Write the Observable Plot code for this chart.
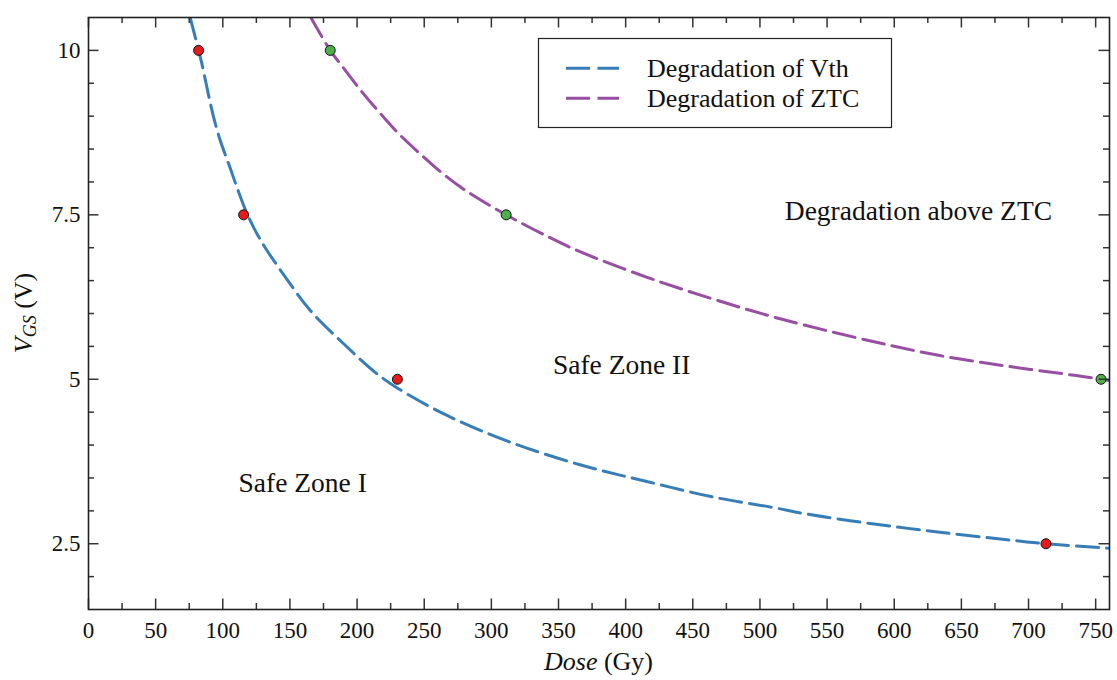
<!DOCTYPE html>
<html>
<head>
<meta charset="utf-8">
<script src="https://cdn.jsdelivr.net/npm/d3@7"></script>
<script src="https://cdn.jsdelivr.net/npm/@observablehq/plot@0.6"></script>
<style>
  body { margin: 0; background: #fff; }
  #chart svg { display: block; }
</style>
</head>
<body>
<div id="chart"></div>
<script>
// Fitted boundary: degradation of the threshold voltage (Vth)
const vthDose = [75.7, 82, 84.4, 89.4, 93.1, 98.1, 104.3, 110.5, 118, 124.2, 131.6, 145, 165, 190, 212, 229, 267, 312, 366, 415, 465, 510, 535, 585, 634, 684, 713, 760.3];
const vthVgs  = [10.5, 10, 9.8, 9.32, 8.99, 8.63, 8.28, 7.92, 7.52, 7.26, 7.0, 6.6, 6.05, 5.54, 5.13, 4.88, 4.45, 4.06, 3.7, 3.45, 3.21, 3.05, 2.95, 2.8, 2.675, 2.56, 2.5, 2.43];
// Measured Vth degradation points
const vthPtDose = [82, 115.5, 230, 713];
const vthPtVgs  = [10, 7.5, 5, 2.5];

// Fitted boundary: degradation of the zero-temperature-coefficient point (ZTC)
const ztcDose = [165.6, 180, 190, 202.4, 214.8, 229.7, 244.6, 259.5, 274.4, 289.3, 311, 341, 366, 416, 465, 515, 585, 634, 684, 734, 754, 760.3];
const ztcVgs  = [10.5, 10, 9.73, 9.4, 9.1, 8.76, 8.47, 8.2, 7.96, 7.76, 7.5, 7.18, 6.94, 6.55, 6.22, 5.92, 5.57, 5.36, 5.2, 5.06, 5.0, 4.98];
// Measured ZTC degradation points
const ztcPtDose = [180, 311, 754];
const ztcPtVgs  = [10, 7.5, 5];

// Region labels
const zoneNames = ["Safe Zone I", "Safe Zone II", "Degradation above ZTC"];
const zoneDose  = [159.5, 397, 618];
const zoneVgs   = [3.42, 5.22, 7.55];

// Series names and colours
const seriesNames  = ["Degradation of Vth", "Degradation of ZTC"];
const seriesColors = ["#377eb8", "#984ea3"];
const pointColors  = ["#e41a1c", "#4daf4a"];

// Tick values
const doseMajor = [0, 50, 100, 150, 200, 250, 300, 350, 400, 450, 500, 550, 600, 650, 700, 750];
const doseMinor = [25, 75, 125, 175, 225, 275, 325, 375, 425, 475, 525, 575, 625, 675, 725];
const vgsMajor  = [2.5, 5, 7.5, 10];
const vgsMinor  = [2, 3, 3.5, 4, 4.5, 5.5, 6, 6.5, 7, 8, 8.5, 9, 9.5];

const zip = (xs, ys) => xs.map((x, i) => ({dose: x, vgs: ys[i]}));
const vthCurve = zip(vthDose, vthVgs);
const ztcCurve = zip(ztcDose, ztcVgs);
const vthPts = zip(vthPtDose, vthPtVgs);
const ztcPts = zip(ztcPtDose, ztcPtVgs);
const zones = zoneNames.map((t, i) => ({text: t, dose: zoneDose[i], vgs: zoneVgs[i]}));

const W = 1117, H = 680;
const mL = 88, mR = 8, mT = 17, mB = 71;
const innerW = W - mL - mR, innerH = H - mT - mB;
const FONT = "'Liberation Serif', 'Times New Roman', serif";
const majorLen = 10.5, minorLen = 6;
const tickStroke = "#333";

const dash = "22,8";

const chart = Plot.plot({
  width: W,
  height: H,
  marginLeft: mL, marginRight: mR, marginTop: mT, marginBottom: mB,
  style: {fontFamily: FONT, fontSize: "23px", color: "#111", background: "#fff"},
  x: {domain: [0, 760.3]},
  y: {domain: [1.5, 10.5]},
  marks: [
    Plot.line(vthCurve, {x: "dose", y: "vgs", stroke: seriesColors[0], strokeWidth: 3, strokeDasharray: dash, curve: "catmull-rom", clip: true}),
    Plot.line(ztcCurve, {x: "dose", y: "vgs", stroke: seriesColors[1], strokeWidth: 3, strokeDasharray: dash, curve: "catmull-rom", clip: true}),
    Plot.dot(vthPts, {x: "dose", y: "vgs", r: 5, fill: pointColors[0], stroke: "#111", strokeWidth: 1}),
    Plot.dot(ztcPts, {x: "dose", y: "vgs", r: 5, fill: pointColors[1], stroke: "#111", strokeWidth: 1}),
    Plot.text(zones, {x: "dose", y: "vgs", text: "text", fontSize: 27.5, fill: "#111"}),
    // inward ticks on all four sides
    Plot.tickX(doseMajor, {x: d => d, insetTop: innerH - majorLen, stroke: tickStroke, strokeWidth: 1.5}),
    Plot.tickX(doseMajor, {x: d => d, insetBottom: innerH - majorLen, stroke: tickStroke, strokeWidth: 1.5}),
    Plot.tickX(doseMinor, {x: d => d, insetTop: innerH - minorLen, stroke: tickStroke, strokeWidth: 1.5}),
    Plot.tickX(doseMinor, {x: d => d, insetBottom: innerH - minorLen, stroke: tickStroke, strokeWidth: 1.5}),
    Plot.tickY(vgsMajor, {y: d => d, insetRight: innerW - majorLen, stroke: tickStroke, strokeWidth: 1.5}),
    Plot.tickY(vgsMajor, {y: d => d, insetLeft: innerW - majorLen, stroke: tickStroke, strokeWidth: 1.5}),
    Plot.tickY(vgsMinor, {y: d => d, insetRight: innerW - minorLen, stroke: tickStroke, strokeWidth: 1.5}),
    Plot.tickY(vgsMinor, {y: d => d, insetLeft: innerW - minorLen, stroke: tickStroke, strokeWidth: 1.5}),
    Plot.axisX(doseMajor, {tickSize: 0, tickPadding: 12, label: null, fontSize: 23}),
    Plot.axisY(vgsMajor, {tickSize: 0, tickPadding: 8, label: null, fontSize: 23, tickFormat: d => String(d)}),
    Plot.frame({stroke: "#222", strokeWidth: 1.6})
  ]
});

document.getElementById("chart").appendChild(chart);

const svg = d3.select(chart);

// Axis titles with italic quantities
const xTitle = svg.append("text")
  .attr("x", mL + innerW / 2).attr("y", 670)
  .attr("text-anchor", "middle")
  .style("font-family", FONT).style("font-size", "26px").attr("fill", "#111");
xTitle.append("tspan").attr("font-style", "italic").text("Dose");
xTitle.append("tspan").text(" (Gy)");

const yTitle = svg.append("text")
  .attr("transform", `translate(32,${mT + innerH / 2}) rotate(-90)`)
  .attr("text-anchor", "middle")
  .style("font-family", FONT).style("font-size", "26px").attr("fill", "#111");
yTitle.append("tspan").attr("font-style", "italic").text("V");
yTitle.append("tspan").attr("font-style", "italic").attr("font-size", "18px").attr("dy", "4").text("GS");
yTitle.append("tspan").attr("dy", "-4").text(" (V)");

// Legend box
const lg = svg.append("g").style("font-family", FONT).attr("text-anchor", "start");
lg.append("rect")
  .attr("x", 538.5).attr("y", 38.5).attr("width", 353).attr("height", 89)
  .attr("fill", "#fff").attr("stroke", "#222").attr("stroke-width", 1.2);
seriesNames.forEach((name, i) => {
  const y = 68.3 + 30 * i;
  lg.append("line")
    .attr("x1", 566).attr("x2", 619).attr("y1", y).attr("y2", y)
    .attr("stroke", seriesColors[i]).attr("stroke-width", 3).attr("stroke-dasharray", "24,7.5");
  lg.append("text")
    .attr("x", 647).attr("y", y).attr("dy", "0.33em")
    .attr("text-anchor", "start")
    .style("font-size", "26px").attr("fill", "#111").text(name);
});
</script>
</body>
</html>
